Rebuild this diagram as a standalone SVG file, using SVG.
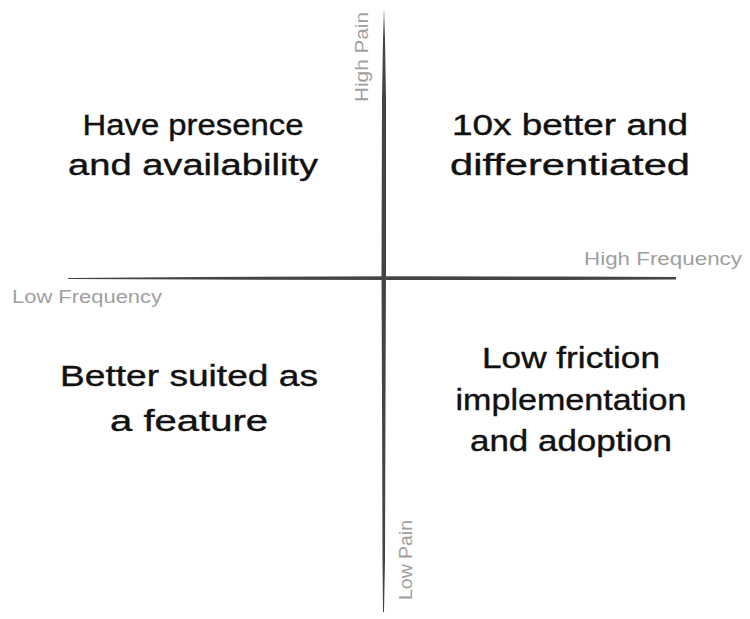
<svg xmlns="http://www.w3.org/2000/svg" width="750" height="619" viewBox="0 0 750 619">
<style>
.q{font-family:"Liberation Sans","DejaVu Sans",sans-serif;font-size:30px;fill:#111;stroke:#111;stroke-width:0.4;text-anchor:middle}
.ax{font-family:"Liberation Sans","DejaVu Sans",sans-serif;font-size:18px;fill:#a0a0a0}
.axis{fill:#444}
</style>
<rect width="750" height="619" fill="#fff"/>
<g id="connectors">
<path class="axis" d="M384,8 L385,40 L386,100 L386,270 L385.5,400 L385,560 L384,612 L383,612 L382.5,560 L382,400 L381.5,270 L382,100 L383,40 Z"/>
<path class="axis" d="M68,278 L200,277 L400,276.3 L560,276.5 L676,277 L676,279.5 L560,280 L400,280 L200,279.5 L68,279 Z" />
</g>
<g id="axis-high-pain"><text class="ax" transform="translate(368,102) rotate(-90)" textLength="90" lengthAdjust="spacingAndGlyphs">High Pain</text></g>
<g id="axis-low-pain"><text class="ax" transform="translate(412,600) rotate(-90)" textLength="80" lengthAdjust="spacingAndGlyphs">Low Pain</text></g>
<g id="axis-low-frequency"><text class="ax" x="12" y="303" textLength="150" lengthAdjust="spacingAndGlyphs">Low Frequency</text></g>
<g id="axis-high-frequency"><text class="ax" x="584" y="265" textLength="158" lengthAdjust="spacingAndGlyphs">High Frequency</text></g>
<g id="q-top-left">
<text class="q" x="193" y="135" textLength="221" lengthAdjust="spacingAndGlyphs">Have presence</text>
<text class="q" x="193" y="175" textLength="250" lengthAdjust="spacingAndGlyphs">and availability</text>
</g>
<g id="q-top-right">
<text class="q" x="570" y="135" textLength="236" lengthAdjust="spacingAndGlyphs">10x better and</text>
<text class="q" x="570" y="175" textLength="240" lengthAdjust="spacingAndGlyphs">differentiated</text>
</g>
<g id="q-bottom-left">
<text class="q" x="189" y="386" textLength="258" lengthAdjust="spacingAndGlyphs">Better suited as</text>
<text class="q" x="189" y="431" textLength="158" lengthAdjust="spacingAndGlyphs">a feature</text>
</g>
<g id="q-bottom-right">
<text class="q" x="571" y="368" textLength="178" lengthAdjust="spacingAndGlyphs">Low friction</text>
<text class="q" x="571" y="410" textLength="231" lengthAdjust="spacingAndGlyphs">implementation</text>
<text class="q" x="571" y="451" textLength="202" lengthAdjust="spacingAndGlyphs">and adoption</text>
</g>
</svg>
